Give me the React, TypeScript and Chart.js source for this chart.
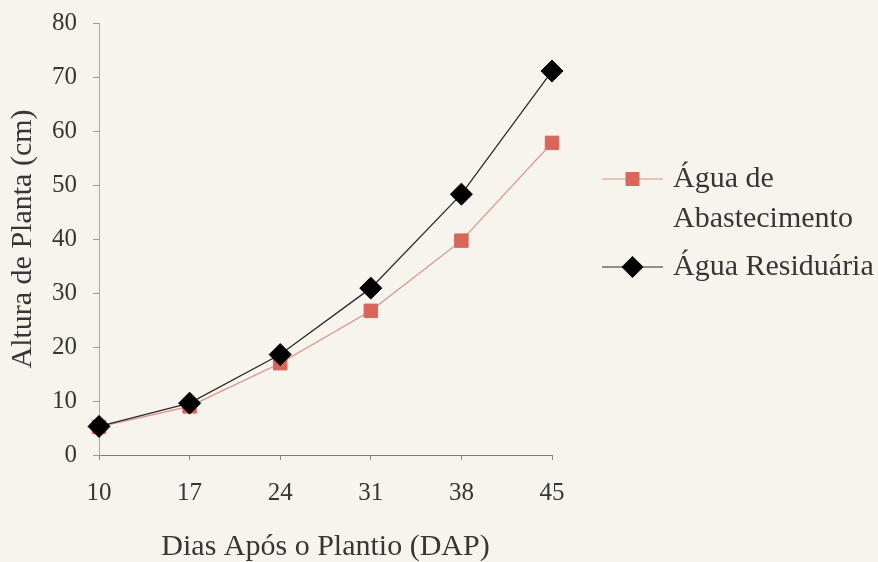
import { useEffect, useRef } from 'react';
import { Chart, registerables } from 'chart.js';

Chart.register(...registerables);

// Plant height (cm) by days after planting
const days = ['10', '17', '24', '31', '38', '45'];
const abastecimento = [5.2, 9.0, 17.0, 26.7, 39.7, 57.8];
const residuaria = [5.3, 9.6, 18.6, 30.9, 48.3, 71.1];
const seriesNames = ['Água de Abastecimento', 'Água Residuária'];
const yTitle = 'Altura de Planta (cm)';
const xTitle = 'Dias Após o Plantio (DAP)';

const SERIF = '"Liberation Serif", "Times New Roman", serif';
const TEXT = '#363636';
const SALMON = '#d9665a';
const SALMON_LINE = '#d98f86';
const BLACK = '#000000';

function wrapText(ctx: CanvasRenderingContext2D, text: string, maxWidth: number): string[] {
  const words = text.split(' ');
  const lines: string[] = [];
  let current = '';
  for (const w of words) {
    const test = current ? current + ' ' + w : w;
    if (current && ctx.measureText(test).width > maxWidth) {
      lines.push(current);
      current = w;
    } else {
      current = test;
    }
  }
  if (current) lines.push(current);
  return lines;
}

// Legend drawn at the right of the plot, with wrapped labels
const sideLegend = {
  id: 'sideLegend',
  afterDraw(chart: any) {
    const { ctx, chartArea } = chart;
    const lineHeight = 40;
    const itemGap = 8;
    const x0 = chartArea.right + 50;
    const x1 = x0 + 61;
    const mx = (x0 + x1) / 2;
    const tx = x1 + 10;
    let y = 179;
    ctx.save();
    ctx.font = `30px ${SERIF}`;
    ctx.textBaseline = 'middle';
    ctx.textAlign = 'left';
    chart.data.datasets.forEach((ds: any) => {
      ctx.strokeStyle = ds.borderColor;
      ctx.lineWidth = 1.2;
      ctx.beginPath();
      ctx.moveTo(x0, y);
      ctx.lineTo(x1, y);
      ctx.stroke();
      ctx.fillStyle = ds.pointBackgroundColor;
      ctx.beginPath();
      if (ds.pointStyle === 'rectRot') {
        const r = 11;
        ctx.moveTo(mx - r, y);
        ctx.lineTo(mx, y - r);
        ctx.lineTo(mx + r, y);
        ctx.lineTo(mx, y + r);
        ctx.closePath();
      } else {
        const h = 7;
        ctx.rect(mx - h, y - h, 2 * h, 2 * h);
      }
      ctx.fill();
      ctx.fillStyle = TEXT;
      const lines = wrapText(ctx, ds.label, 215);
      lines.forEach((ln, i) => ctx.fillText(ln, tx, y + i * lineHeight));
      y += lines.length * lineHeight + itemGap;
    });
    ctx.restore();
  },
};

export default function App() {
  const ref = useRef<HTMLCanvasElement | null>(null);

  useEffect(() => {
    if (!ref.current) return;
    const chart = new Chart(ref.current, {
      type: 'line',
      data: {
        labels: days,
        datasets: [
          {
            label: seriesNames[0],
            data: abastecimento,
            borderColor: SALMON_LINE,
            borderWidth: 1.2,
            pointStyle: 'rect',
            pointRadius: 9.5,
            pointHoverRadius: 9.5,
            pointBackgroundColor: SALMON,
            pointBorderColor: SALMON,
            pointBorderWidth: 1,
            tension: 0,
            order: 1,
          },
          {
            label: seriesNames[1],
            data: residuaria,
            borderColor: '#2a2a2a',
            borderWidth: 1.3,
            pointStyle: 'rectRot',
            pointRadius: 11,
            pointHoverRadius: 11,
            pointBackgroundColor: BLACK,
            pointBorderColor: BLACK,
            pointBorderWidth: 1,
            tension: 0,
            order: 0,
          },
        ],
      },
      options: {
        responsive: false,
        animation: false,
        layout: { padding: { left: 0, top: 23, right: 326, bottom: 0 } },
        plugins: {
          legend: { display: false },
          tooltip: { enabled: false },
        },
        scales: {
          x: {
            type: 'category',
            offset: false,
            afterFit: (s: any) => {
              s.height = 107;
              s.paddingLeft = 0;
              s.paddingRight = 0;
            },
            grid: {
              drawOnChartArea: false,
              drawTicks: true,
              tickLength: 5,
              color: '#8a8a8a',
            },
            border: { display: true, color: '#7d7d7d', width: 1 },
            ticks: {
              color: TEXT,
              font: { family: SERIF, size: 25 },
              padding: 18,
              maxRotation: 0,
              autoSkip: false,
            },
            title: {
              display: true,
              text: xTitle,
              color: TEXT,
              font: { family: SERIF, size: 30, lineHeight: 1 },
              padding: { top: 0, bottom: 0 },
            },
          },
          y: {
            min: 0,
            max: 80,
            afterFit: (s: any) => {
              s.width = 99;
              s.paddingTop = 0;
              s.paddingBottom = 0;
            },
            grid: {
              drawOnChartArea: false,
              drawTicks: true,
              tickLength: 6,
              color: '#9a9a9a',
            },
            border: { display: true, color: '#a8a8a8', width: 1 },
            ticks: {
              stepSize: 10,
              color: TEXT,
              font: { family: SERIF, size: 25 },
              padding: 16,
            },
            title: {
              display: true,
              text: yTitle,
              color: TEXT,
              font: { family: SERIF, size: 30, lineHeight: 1.2 },
              padding: { top: 5, bottom: 0 },
            },
          },
        },
      },
      plugins: [sideLegend],
    } as any);
    return () => chart.destroy();
  }, []);

  return (
    <div
      style={{
        position: 'fixed',
        left: 0,
        top: 0,
        width: 878,
        height: 562,
        background: '#f7f4ed',
      }}
    >
      <canvas ref={ref} width={878} height={562} style={{ display: 'block' }} />
    </div>
  );
}
